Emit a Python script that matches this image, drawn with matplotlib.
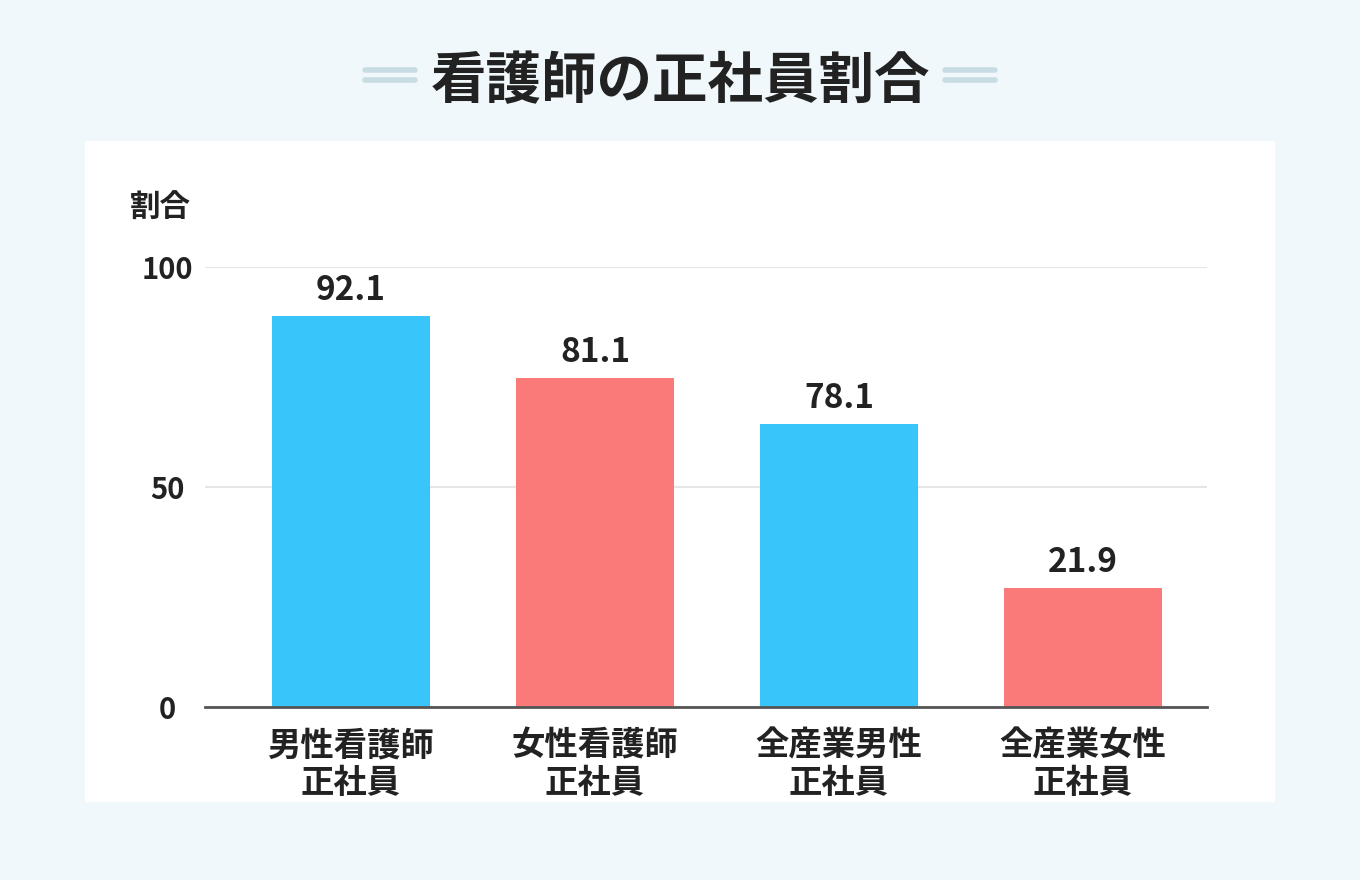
import matplotlib
matplotlib.use("Agg")
import matplotlib.pyplot as plt
from matplotlib.patches import Rectangle
from matplotlib.lines import Line2D

plt.rcParams['font.family'] = ['Noto Sans CJK JP', 'DejaVu Sans']
plt.rcParams['font.weight'] = 'bold'

# data
categories = ['男性看護師\n正社員', '女性看護師\n正社員', '全産業男性\n正社員', '全産業女性\n正社員']
bar_heights = [88.9, 74.8, 64.3, 27.0]   # heights as drawn in the picture
value_labels = ['92.1', '81.1', '78.1', '21.9']
yticks = [0, 50, 100]

blue = '#38c5f9'
red = '#fa7a7a'
colors = [blue, red, blue, red]
text_color = '#222222'

fig = plt.figure(figsize=(13.6, 8.8), dpi=100)
fig.patch.set_facecolor('#f0f8fb')

# white panel behind the chart
fig.patches.append(Rectangle((85 / 1360, 1 - 802 / 880), 1190 / 1360, 661 / 880,
                             transform=fig.transFigure, facecolor='white',
                             edgecolor='none', zorder=-5))

# title with double lines on both sides
fig.text(0.5, 1 - 82 / 880, '看護師の正社員割合', ha='center', va='center',
         fontsize=40, fontweight='bold', color=text_color)
for x0, x1 in [(365, 415), (945, 995)]:
    for y in (70, 80):
        fig.add_artist(Line2D([x0 / 1360, x1 / 1360], [1 - y / 880, 1 - y / 880],
                              transform=fig.transFigure, color='#c8dde3',
                              linewidth=4, solid_capstyle='round'))

ax = fig.add_axes([205 / 1360, 1 - 707 / 880, 1002 / 1360, 440 / 880])
ax.patch.set_alpha(0)

x = range(len(categories))
bars = ax.bar(x, bar_heights, width=0.648, color=colors, zorder=2)
for b, lab in zip(bars, value_labels):
    ax.text(b.get_x() + b.get_width() / 2, b.get_height() + 2, lab,
            ha='center', va='bottom', fontsize=24, fontweight='bold', color=text_color)

ax.set_xlim(-0.598, 3.508)
ax.set_ylim(0, 100)
ax.set_yticks(yticks)
ax.set_yticklabels([str(t) for t in yticks], fontsize=21, fontweight='bold',
                   color=text_color, ha='center')
ax.set_xticks(list(x))
ax.set_xticklabels(categories, fontsize=24, fontweight='bold', color=text_color, linespacing=1.2)
ax.tick_params(axis='both', length=0)
ax.tick_params(axis='y', pad=27)
ax.tick_params(axis='x', pad=16)
ax.grid(axis='y', color='#e6e6e6', linewidth=1.5, zorder=0)
ax.set_axisbelow(True)
for s in ['top', 'right', 'left']:
    ax.spines[s].set_visible(False)
ax.spines['bottom'].set_color('#555555')
ax.spines['bottom'].set_linewidth(2)
ax.spines['bottom'].set_zorder(3)

fig.text(160 / 1360, 1 - 208 / 880, '割合', ha='center', va='center',
         fontsize=22, fontweight='bold', color=text_color)

fig.savefig('out.png', dpi=100, facecolor=fig.get_facecolor())
